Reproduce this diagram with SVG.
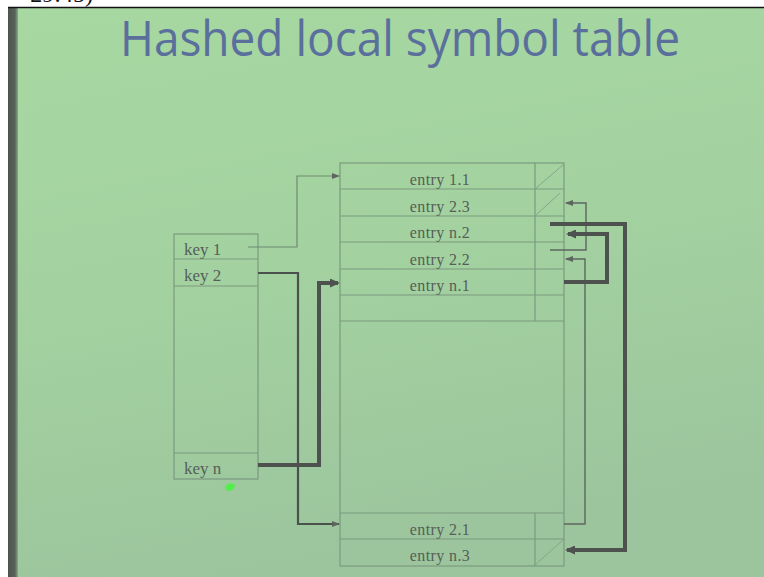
<svg xmlns="http://www.w3.org/2000/svg" width="764" height="577" viewBox="0 0 764 577">
  <style>
    .cell { fill: none; stroke: #7b9a7f; stroke-width: 1.2; }
    .slash { fill: none; stroke: #86a58a; stroke-width: 1; }
    .entry { font-family: "Liberation Serif", "DejaVu Serif", serif; font-size: 16px; letter-spacing: 0.4px; fill: #565e58; text-anchor: middle; }
    .key { font-family: "Liberation Serif", "DejaVu Serif", serif; font-size: 17px; fill: #565e58; }
    .thin { fill: none; stroke: #5d655f; stroke-width: 1.4; }
    .faint { fill: none; stroke: #6f8a72; stroke-width: 1.2; }
    .mid { fill: none; stroke: #4b514d; stroke-width: 2.2; }
    .thick { fill: none; stroke: #4d524f; stroke-width: 4; }
  </style>
  <defs>
    <linearGradient id="bg" x1="0" y1="0" x2="0.25" y2="1">
      <stop offset="0" stop-color="#a7d8a1"/>
      <stop offset="0.5" stop-color="#a3d2a0"/>
      <stop offset="1" stop-color="#9cc59d"/>
    </linearGradient>
    <linearGradient id="edge" x1="0" y1="0" x2="1" y2="0">
      <stop offset="0" stop-color="#4c544e"/>
      <stop offset="0.7" stop-color="#58625a"/>
      <stop offset="1" stop-color="#8aaa88"/>
    </linearGradient>
    <marker id="arrow-thin" markerUnits="userSpaceOnUse" markerWidth="8" markerHeight="6" refX="7" refY="3" orient="auto">
      <path d="M0,0 L8,3 L0,6 z" fill="#5d655f"/>
    </marker>
    <marker id="arrow-thick" markerUnits="userSpaceOnUse" markerWidth="10" markerHeight="9" refX="8" refY="4.5" orient="auto">
      <path d="M0,0 L10,4.5 L0,9 z" fill="#4d524f"/>
    </marker>
  </defs>

  <!-- page, screen and frame -->
  <rect x="0" y="0" width="764" height="577" fill="#ffffff"/>
  <text x="93" y="2" font-family="Liberation Serif, serif" font-size="24" text-anchor="end" fill="#111">29:45)</text>
  <rect x="8" y="8" width="756" height="569" fill="url(#bg)"/>
  <rect x="8" y="8" width="10" height="569" fill="url(#edge)"/>
  <line x1="8" y1="7.5" x2="764" y2="7.5" stroke="#111" stroke-width="1.5"/>

  <!-- heading -->
  <g id="title">
    <text x="120" y="56" font-family="Open Sans, DejaVu Sans, sans-serif" font-size="49" fill="#5a6f9c" textLength="560" lengthAdjust="spacingAndGlyphs">Hashed local symbol table</text>
  </g>

  <!-- hash bucket array -->
  <g id="key-table">
    <rect class="cell" x="174" y="234" width="84" height="245"/>
    <g id="key-1">
      <line class="cell" x1="174" y1="259" x2="258" y2="259"/>
      <text class="key" x="184" y="255">key 1</text>
    </g>
    <g id="key-2">
      <line class="cell" x1="174" y1="286" x2="258" y2="286"/>
      <text class="key" x="184" y="281">key 2</text>
    </g>
    <g id="key-n">
      <line class="cell" x1="174" y1="453" x2="258" y2="453"/>
      <text class="key" x="184" y="474">key n</text>
    </g>
  </g>

  <!-- entry storage -->
  <g id="entry-table">
    <rect class="cell" x="340" y="163" width="224" height="403"/>
    <line class="cell" x1="535" y1="163" x2="535" y2="321"/>
    <line class="cell" x1="535" y1="513" x2="535" y2="566"/>
    <line class="cell" x1="340" y1="321" x2="564" y2="321"/>
    <line class="cell" x1="340" y1="513" x2="564" y2="513"/>
    <g id="entry-1-1">
      <line class="cell" x1="340" y1="189" x2="564" y2="189"/>
      <line class="slash" x1="535" y1="189" x2="564" y2="164"/>
      <text class="entry" x="440" y="185">entry 1.1</text>
    </g>
    <g id="entry-2-3">
      <line class="cell" x1="340" y1="216" x2="564" y2="216"/>
      <line class="slash" x1="536" y1="215" x2="560" y2="193"/>
      <text class="entry" x="440" y="212">entry 2.3</text>
    </g>
    <g id="entry-n-2">
      <line class="cell" x1="340" y1="242" x2="564" y2="242"/>
      <text class="entry" x="440" y="238">entry n.2</text>
    </g>
    <g id="entry-2-2">
      <line class="cell" x1="340" y1="269" x2="564" y2="269"/>
      <text class="entry" x="440" y="265">entry 2.2</text>
    </g>
    <g id="entry-n-1">
      <line class="cell" x1="340" y1="295" x2="564" y2="295"/>
      <text class="entry" x="440" y="291">entry n.1</text>
    </g>
    <g id="entry-2-1">
      <line class="cell" x1="340" y1="539" x2="564" y2="539"/>
      <text class="entry" x="440" y="535">entry 2.1</text>
    </g>
    <g id="entry-n-3">
      <line class="slash" x1="535" y1="565" x2="563" y2="540"/>
      <text class="entry" x="440" y="561">entry n.3</text>
    </g>
  </g>

  <!-- chain links -->
  <g id="connectors">
    <path class="faint" d="M248,247 H297 V176 H339" marker-end="url(#arrow-thin)"/>
    <path class="mid" d="M258,273 H298 V524 H339" marker-end="url(#arrow-thin)"/>
    <path class="thick" d="M258,465 H319 V283 H338" marker-end="url(#arrow-thick)"/>
    <path class="thin" d="M564,524 H585 V259 H566" marker-end="url(#arrow-thin)"/>
    <path class="thin" d="M550,250 H586 V203 H566" marker-end="url(#arrow-thin)"/>
    <path class="thick" d="M564,282 H607 V234 H568" marker-end="url(#arrow-thick)"/>
    <path class="thick" d="M550,224 H625 V550 H567" marker-end="url(#arrow-thick)"/>
  </g>

  <!-- pointer spot -->
  <ellipse cx="230" cy="487" rx="5" ry="3.5" transform="rotate(-25 230 487)" fill="#4ff04a"/>
</svg>
